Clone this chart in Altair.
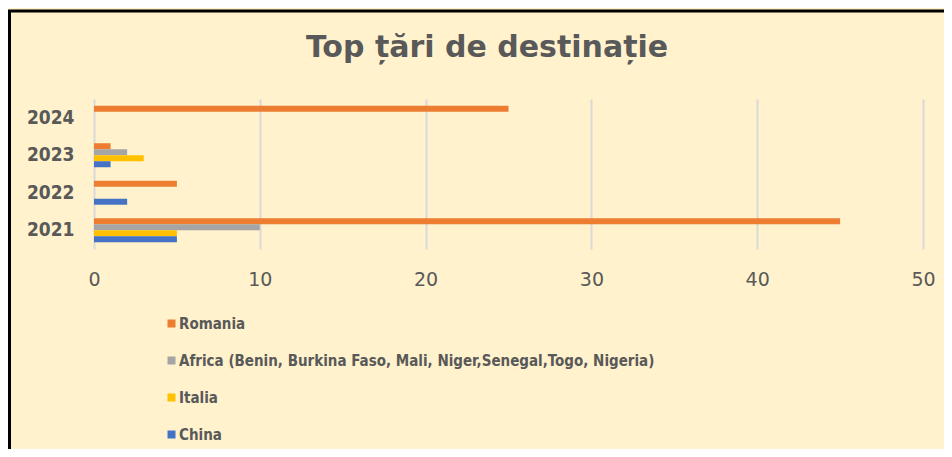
import altair as alt
import pandas as pd

title_text = "Top țări de destinație"
years = ["2021", "2022", "2023", "2024"]
series = [
    "Romania",
    "Africa (Benin, Burkina Faso, Mali, Niger,Senegal,Togo, Nigeria)",
    "Italia",
    "China",
]
romania = [45, 5, 1, 25]
africa = [10, 0, 2, 0]
italia = [5, 0, 3, 0]
china = [5, 2, 1, 0]
colors = ["#ED7D31", "#A5A5A5", "#FFC000", "#4472C4"]
x_ticks = [0, 10, 20, 30, 40, 50]

rows = []
for name, vals in zip(series, [romania, africa, italia, china]):
    for y, v in zip(years, vals):
        rows.append({"year": y, "series": name, "value": v})
df = pd.DataFrame(rows)

FONT = "DejaVu Sans Condensed"
GRAY = "#595959"

bars = alt.Chart(df).mark_bar().encode(
    x=alt.X(
        "value:Q",
        scale=alt.Scale(domain=[0, 50]),
        axis=alt.Axis(
            values=x_ticks, title=None, domain=False, ticks=False,
            grid=True, gridColor="#D9D9D9", gridWidth=2, labelFlush=False,
            labelFont="DejaVu Sans", labelFontSize=19, labelColor=GRAY,
            labelPadding=21,
        ),
    ),
    y=alt.Y(
        "year:N",
        sort=years[::-1],
        scale=alt.Scale(paddingInner=0.36, paddingOuter=0.18),
        axis=alt.Axis(
            title=None, domain=False, ticks=False, grid=False,
            labelFont=FONT, labelFontSize=19, labelFontWeight="bold",
            labelColor=GRAY, labelPadding=20,
        ),
    ),
    yOffset=alt.YOffset("series:N", sort=series),
    color=alt.Color(
        "series:N",
        scale=alt.Scale(domain=series, range=colors),
        legend=alt.Legend(
            title=None, orient="none", legendX=70, legendY=217,
            direction="vertical", symbolType="square", symbolSize=64,
            symbolStrokeWidth=0, labelFont=FONT, labelFontSize=15,
            labelFontWeight="bold", labelColor=GRAY, labelOffset=0,
            rowPadding=21, padding=0, labelLimit=800,
        ),
    ),
)

dummy = pd.DataFrame({"t": [title_text]})

border = alt.Chart(dummy).mark_rect(
    filled=False, stroke="black", strokeWidth=3
).encode(
    x=alt.value(-84.5), x2=alt.value(880),
    y=alt.value(-88), y2=alt.value(380),
)

title = alt.Chart(dummy).mark_text(
    font="DejaVu Sans", fontSize=30, fontWeight="bold", color=GRAY,
    align="center", baseline="alphabetic",
).encode(
    text="t:N", x=alt.value(393), y=alt.value(-42),
)

chart = alt.layer(bars, border, title).properties(
    width=829,
    height=150,
    autosize=alt.AutoSizeParams(type="none"),
    padding={"left": 86, "top": 91, "right": 21, "bottom": 200},
    background="#FFF2CC",
).configure_view(stroke=None)

chart.save("out.html", embed_options={"renderer": "svg", "actions": False})
